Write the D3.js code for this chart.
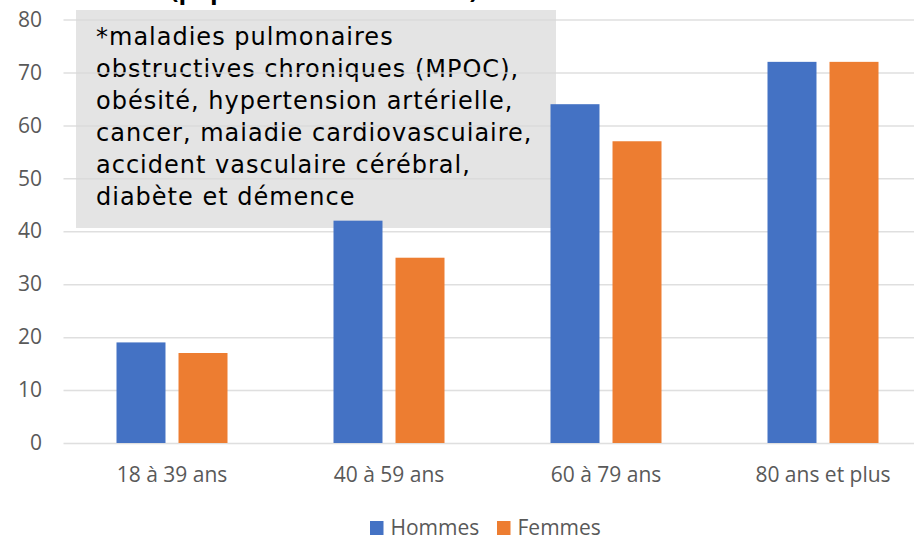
<!DOCTYPE html>
<html>
<head>
<meta charset="utf-8">
<script src="https://cdn.jsdelivr.net/npm/d3@7"></script>
<style>
  body { margin: 0; background: #fff; }
  svg { display: block; font-family: "Open Sans", "Noto Sans", sans-serif; }
</style>
</head>
<body>
<div class="chart"></div>
<script>
// data
const categories = ["18 à 39 ans", "40 à 59 ans", "60 à 79 ans", "80 ans et plus"];
const series = ["Hommes", "Femmes"];
const hommes = [19, 42, 64, 72];
const femmes = [17, 35, 57, 72];
const yTicks = [0, 10, 20, 30, 40, 50, 60, 70, 80];
const colors = ["#4472c4", "#ed7d31"];
const titleText = "(population canadienne)";
const noteLines = [
    "*maladies pulmonaires",
    "obstructives chroniques (MPOC),",
    "obésité, hypertension artérielle,",
    "cancer, maladie cardiovasculaire,",
    "accident vasculaire cérébral,",
    "diabète et démence"
];

const width = 914, height = 535;

const svg = d3.select(".chart").append("svg")
    .attr("width", width)
    .attr("height", height);

const x0 = d3.scaleBand()
    .domain(categories)
    .range([63.5, 931.5]);

const x1 = d3.scaleBand()
    .domain(series)
    .range([53, 164])
    .paddingInner(0.21);

const y = d3.scaleLinear()
    .domain([0, 80])
    .range([443, 19.5]);

const color = d3.scaleOrdinal().domain(series).range(colors);

// title, mostly cropped off the top
svg.append("text")
    .attr("x", 170)
    .attr("y", -2)
    .attr("font-size", 29)
    .attr("font-weight", "bold")
    .attr("fill", "#000")
    .attr("textLength", 308)
    .attr("lengthAdjust", "spacingAndGlyphs")
    .text(titleText);

// note box
svg.append("rect")
    .attr("x", 76)
    .attr("y", 10)
    .attr("width", 480)
    .attr("height", 218)
    .attr("fill", "#e4e4e4");

svg.append("g")
    .selectAll("text")
    .data(noteLines)
    .enter().append("text")
    .attr("x", 96)
    .attr("y", (d, i) => 45 + i * 32)
    .attr("font-family", "DejaVu Sans, sans-serif")
    .attr("font-size", 24)
    .attr("letter-spacing", 1)
    .attr("fill", "#000")
    .text(d => d);

// gridlines + y labels
const yAxis = d3.axisLeft(y)
    .tickValues(yTicks)
    .tickSize(-(width - 63.5))
    .tickFormat(d3.format("d"));

svg.append("g")
    .attr("class", "y-axis")
    .attr("transform", "translate(63.5,0)")
    .call(yAxis)
    .call(g => g.select(".domain").remove())
    .call(g => g.selectAll(".tick line")
        .attr("stroke", "#d9d9d9")
        .attr("stroke-width", 1.5)
        .attr("stroke-opacity", 0.85))
    .call(g => g.selectAll(".tick text")
        .attr("x", -21.5)
        .attr("fill", "#595959")
        .attr("font-size", 21)
        .attr("font-family", "Open Sans, sans-serif"));

// bars
const rows = categories.map((c, i) => ({ category: c, Hommes: hommes[i], Femmes: femmes[i] }));

svg.append("g")
    .selectAll("g")
    .data(rows)
    .enter().append("g")
    .attr("transform", d => "translate(" + x0(d.category) + ",0)")
    .selectAll("rect")
    .data(d => series.map(s => ({ key: s, value: d[s] })))
    .enter().append("rect")
    .attr("x", d => x1(d.key))
    .attr("width", x1.bandwidth())
    .attr("y", d => y(d.value))
    .attr("height", d => y(0) - y(d.value))
    .attr("fill", d => color(d.key));

// category axis
const xAxis = d3.axisBottom(x0).tickSize(0).tickPadding(0);

svg.append("g")
    .attr("class", "x-axis")
    .attr("transform", "translate(0,467)")
    .call(xAxis)
    .call(g => g.select(".domain").remove())
    .call(g => g.selectAll(".tick text")
        .attr("fill", "#595959")
        .attr("font-size", 21)
        .attr("font-family", "Open Sans, sans-serif"));

// legend
const legendX = [370, 497];
const legend = svg.append("g")
    .selectAll("g")
    .data(series)
    .enter().append("g")
    .attr("transform", (d, i) => "translate(" + legendX[i] + ",521)");

legend.append("rect")
    .attr("width", 13.5)
    .attr("height", 14)
    .attr("fill", d => color(d));

legend.append("text")
    .attr("x", 20.5)
    .attr("y", 14)
    .attr("font-size", 21)
    .attr("fill", "#595959")
    .text(d => d);
</script>
</body>
</html>
